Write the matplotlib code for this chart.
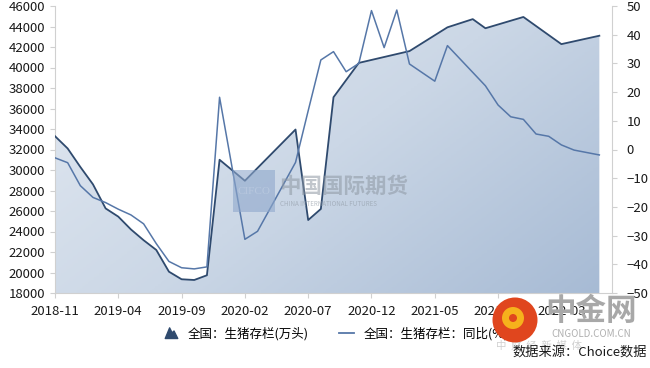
import numpy as np
import matplotlib
matplotlib.use("Agg")
import matplotlib.pyplot as plt
from matplotlib.colors import LinearSegmentedColormap
from matplotlib.lines import Line2D
from matplotlib.patches import Rectangle, Ellipse
from matplotlib.path import Path

plt.rcParams['font.family'] = ['Noto Sans CJK SC', 'DejaVu Sans']

# readings, by month (2018-11 onward)
stock_months = ['2018-11', '2018-12', '2019-01', '2019-02', '2019-03', '2019-04', '2019-05',
                '2019-06', '2019-07', '2019-08', '2019-09', '2019-10', '2019-11', '2019-12',
                '2020-02', '2020-06', '2020-07', '2020-08', '2020-09', '2020-11', '2021-03',
                '2021-06', '2021-08', '2021-09', '2021-12', '2022-03', '2022-06']
stock = [33300, 32100, 30300, 28600, 26250, 25450, 24200,
         23150, 22200, 20080, 19340, 19270, 19730, 31000,
         28950, 33950, 25120, 26200, 37100, 40450, 41600,
         43920, 44720, 43830, 44930, 42280, 43100]

yoy_months = ['2018-11', '2018-12', '2019-01', '2019-02', '2019-03', '2019-04', '2019-05',
              '2019-06', '2019-07', '2019-08', '2019-09', '2019-10', '2019-11', '2019-12',
              '2020-02', '2020-03', '2020-06', '2020-07', '2020-08', '2020-09', '2020-10',
              '2020-11', '2020-12', '2021-01', '2021-02', '2021-03', '2021-05', '2021-06',
              '2021-09', '2021-10', '2021-11', '2021-12', '2022-01', '2022-02', '2022-03',
              '2022-04', '2022-06']
yoy = [-2.9, -4.6, -12.6, -16.7, -18.5, -20.8, -22.8,
       -25.9, -32.8, -39.0, -41.2, -41.6, -40.9, 18.2,
       -31.3, -28.5, -4.5, 13.5, 31.2, 34.1, 27.1,
       30.0, 48.4, 35.5, 48.6, 29.8, 23.8, 36.2,
       22.2, 15.5, 11.4, 10.5, 5.4, 4.6, 1.6,
       -0.2, -1.9]

xtick_labels = ['2018-11', '2019-04', '2019-09', '2020-02', '2020-07',
                '2020-12', '2021-05', '2021-10', '2022-03']


def month_index(s):
    y, m = s.split('-')
    return (int(y) - 2018) * 12 + int(m) - 11


xs = np.array([month_index(s) for s in stock_months])
xy = np.array([month_index(s) for s in yoy_months])
xt = [month_index(s) for s in xtick_labels]

dark = '#2f4a6e'
light = '#5677a8'
grey_spine = '#d0d0d0'

fig = plt.figure(figsize=(6.5, 3.68), dpi=100)
ax = fig.add_axes([55 / 650, 1 - 293 / 368, (612 - 55) / 650, (293 - 6) / 368])
ax.set_xlim(0, 44)
ax.set_ylim(18000, 46000)

# gradient area under the stock line (light top-left -> darker bottom-right)
poly = ax.fill_between(xs, stock, 18000, facecolor='none', edgecolor='none')
gx, gy = np.meshgrid(np.linspace(0, 1, 200), np.linspace(0, 1, 200))
grad = 0.6 * gx + 0.4 * gy
cmap = LinearSegmentedColormap.from_list('g', ['#e4eaf2', '#cbd7e6', '#a6bad4'])
im = ax.imshow(grad, extent=[0, 44, 18000, 46000], aspect='auto', cmap=cmap,
               zorder=1, origin='upper')
im.set_clip_path(poly.get_paths()[0], transform=ax.transData)
ax.set_xlim(0, 44)
ax.set_ylim(18000, 46000)
ax.plot(xs, stock, color=dark, lw=1.3, zorder=3)

ax2 = ax.twinx()
ax2.set_ylim(-50, 50)
ax2.plot(xy, yoy, color=light, lw=1.1, zorder=3)

ax.set_xticks(xt)
ax.set_xticklabels(xtick_labels)
ax.set_yticks(np.arange(18000, 46001, 2000))
ax2.set_yticks(np.arange(-50, 51, 10))

for a in (ax, ax2):
    for s in a.spines.values():
        s.set_visible(False)
    a.tick_params(colors=grey_spine, labelcolor='#1a1a1a', labelsize=9.5,
                  length=3.6, width=0.8, pad=3.5)
ax.spines['left'].set_visible(True)
ax.spines['left'].set_color(grey_spine)
ax.spines['bottom'].set_visible(True)
ax.spines['bottom'].set_color(grey_spine)
ax2.spines['right'].set_visible(True)
ax2.spines['right'].set_color(grey_spine)
ax.tick_params(axis='x', pad=5)
ax2.tick_params(axis='y', pad=7)

# CIFCO watermark
fig.add_artist(Rectangle((233 / 650, 1 - 212 / 368), 42 / 650, 42 / 368,
                         transform=fig.transFigure, facecolor='#8fa8cc', alpha=0.6,
                         edgecolor='none', zorder=5))
fig.text(254 / 650, 1 - 191 / 368, 'CIFCO', color='white', fontsize=8,
         family='Liberation Serif', ha='center', va='center', alpha=0.8)
fig.text(279 / 650, 1 - 186 / 368, '中国国际期货', color='#8e98a3', fontsize=15.5,
         fontweight='bold', ha='left', va='center', alpha=0.55)
fig.text(280 / 650, 1 - 204 / 368, 'CHINA INTERNATIONAL FUTURES', color='#8e98a3',
         fontsize=4.5, ha='left', va='center', alpha=0.6)

# legend
mountain = Path([(-1, -0.8), (-0.3, 0.9), (0.1, 0.1), (0.4, 0.4), (1, -0.8), (-1, -0.8)],
                [Path.MOVETO, Path.LINETO, Path.LINETO, Path.LINETO, Path.LINETO,
                 Path.CLOSEPOLY])
h1 = Line2D([], [], marker=mountain, markersize=9, color=dark, linestyle='none')
h2 = Line2D([], [], color=light, lw=1.3)
fig.legend([h1, h2], ['全国：生猪存栏(万头)', '全国：生猪存栏：同比(%)'],
           loc='center', bbox_to_anchor=(336 / 650, 1 - 334 / 368), ncol=2,
           frameon=False, fontsize=9, handlelength=1.2, columnspacing=2.4,
           handletextpad=0.8)

# cngold logo
fig.add_artist(Ellipse((515 / 650, 1 - 320 / 368), 45 / 650, 45 / 368,
                       transform=fig.transFigure, facecolor='#e0461e',
                       edgecolor='none', zorder=6))
fig.add_artist(Ellipse((513 / 650, 1 - 318 / 368), 22 / 650, 22 / 368,
                       transform=fig.transFigure, facecolor='#f6b21c',
                       edgecolor='none', zorder=7))
fig.add_artist(Ellipse((513 / 650, 1 - 318 / 368), 8 / 650, 8 / 368,
                       transform=fig.transFigure, facecolor='#e0461e',
                       edgecolor='none', zorder=8))
fig.text(591 / 650, 1 - 311 / 368, '中金网', color='#a8a8a8', fontsize=22,
         fontweight='bold', ha='center', va='center', zorder=6)
fig.text(591 / 650, 1 - 334 / 368, 'CNGOLD.COM.CN', color='#b0b0b0', fontsize=7,
         ha='center', va='center', zorder=6)
fig.text(496 / 650, 1 - 346 / 368, '中  财  经  新  媒  体', color='#d0d0d0', fontsize=7.5,
         ha='left', va='center')
fig.text(647 / 650, 1 - 352 / 368, '数据来源：Choice数据', color='#1a1a1a', fontsize=9.5,
         ha='right', va='center', zorder=8)

fig.savefig('out.png', dpi=100)
